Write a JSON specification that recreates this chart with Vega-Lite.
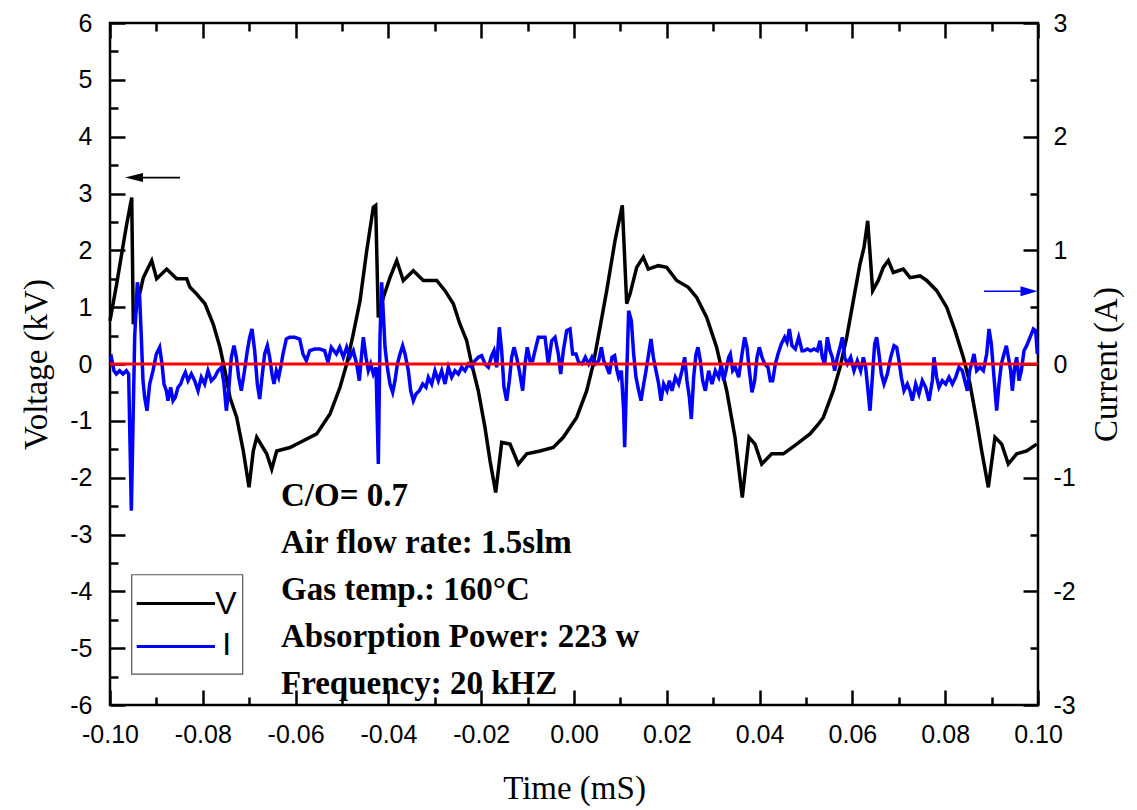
{
  "$schema": "https://vega.github.io/schema/vega-lite/v6.json",
  "width": 928,
  "height": 682,
  "autosize": "none",
  "padding": {"left": 110, "top": 23, "right": 99, "bottom": 105},
  "background": "white",
  "config": {
    "locale": {"number": {"decimal": ".", "thousands": ",", "grouping": [3], "currency": ["$", ""], "minus": "-"}},
    "view": {"stroke": "black", "strokeWidth": 2.5},
    "axis": {
      "grid": false,
      "domain": false,
      "domainColor": "black",
      "tickColor": "black",
      "labelColor": "black",
      "titleColor": "black",
      "tickWidth": 2.5,
      "labelFont": "Liberation Sans",
      "labelFontSize": 25,
      "titleFont": "Liberation Serif",
      "titleFontSize": 33,
      "titleFontWeight": "normal",
      "labelFlush": false,
      "labelOverlap": false
    }
  },
  "datasets": {
    "volt": [
      {"t": -0.1, "v": 0.76}, {"t": -0.09856, "v": 1.41}, {"t": -0.09713, "v": 2.11}, {"t": -0.0964, "v": 2.46},
      {"t": -0.09532, "v": 2.93}, {"t": -0.09498, "v": 0.7}, {"t": -0.09425, "v": 1.0}, {"t": -0.09282, "v": 1.52},
      {"t": -0.09101, "v": 1.82}, {"t": -0.08994, "v": 1.5}, {"t": -0.08778, "v": 1.67}, {"t": -0.08563, "v": 1.5},
      {"t": -0.08347, "v": 1.5}, {"t": -0.08276, "v": 1.35}, {"t": -0.08131, "v": 1.23}, {"t": -0.07953, "v": 1.06},
      {"t": -0.07774, "v": 0.7}, {"t": -0.07629, "v": 0.29}, {"t": -0.07522, "v": -0.12}, {"t": -0.07414, "v": -0.59},
      {"t": -0.07269, "v": -0.94}, {"t": -0.07127, "v": -1.53}, {"t": -0.07004, "v": -2.17}, {"t": -0.06912, "v": -1.53},
      {"t": -0.06838, "v": -1.29}, {"t": -0.06623, "v": -1.58}, {"t": -0.06515, "v": -1.85}, {"t": -0.06407, "v": -1.53},
      {"t": -0.06121, "v": -1.47}, {"t": -0.05834, "v": -1.35}, {"t": -0.05545, "v": -1.23}, {"t": -0.05259, "v": -0.88},
      {"t": -0.05043, "v": -0.41}, {"t": -0.04899, "v": 0.0}, {"t": -0.04757, "v": 0.53}, {"t": -0.04612, "v": 1.11},
      {"t": -0.04468, "v": 1.99}, {"t": -0.04325, "v": 2.76}, {"t": -0.04274, "v": 2.79}, {"t": -0.04218, "v": 0.82},
      {"t": -0.0411, "v": 1.17}, {"t": -0.03966, "v": 1.52}, {"t": -0.03821, "v": 1.82}, {"t": -0.03679, "v": 1.47},
      {"t": -0.03463, "v": 1.64}, {"t": -0.03248, "v": 1.47}, {"t": -0.02959, "v": 1.47}, {"t": -0.0278, "v": 1.29},
      {"t": -0.02601, "v": 1.06}, {"t": -0.02457, "v": 0.7}, {"t": -0.02313, "v": 0.41}, {"t": -0.02205, "v": 0.0},
      {"t": -0.02063, "v": -0.47}, {"t": -0.01918, "v": -1.12}, {"t": -0.0181, "v": -1.7}, {"t": -0.01688, "v": -2.26},
      {"t": -0.01558, "v": -1.38}, {"t": -0.01379, "v": -1.41}, {"t": -0.012, "v": -1.76}, {"t": -0.01019, "v": -1.58},
      {"t": -0.00733, "v": -1.53}, {"t": -0.00446, "v": -1.47}, {"t": -0.00231, "v": -1.29}, {"t": 0.00058, "v": -0.94},
      {"t": 0.00274, "v": -0.47}, {"t": 0.00416, "v": 0.0}, {"t": 0.0056, "v": 0.64}, {"t": 0.00705, "v": 1.29},
      {"t": 0.00884, "v": 2.17}, {"t": 0.01041, "v": 2.79}, {"t": 0.01136, "v": 1.06}, {"t": 0.01207, "v": 1.23},
      {"t": 0.01351, "v": 1.7}, {"t": 0.01494, "v": 1.88}, {"t": 0.01601, "v": 1.67}, {"t": 0.01817, "v": 1.73},
      {"t": 0.01998, "v": 1.7}, {"t": 0.02213, "v": 1.47}, {"t": 0.02463, "v": 1.35}, {"t": 0.02644, "v": 1.17},
      {"t": 0.0286, "v": 0.82}, {"t": 0.03075, "v": 0.29}, {"t": 0.03291, "v": -0.47}, {"t": 0.0347, "v": -1.29},
      {"t": 0.03627, "v": -2.35}, {"t": 0.03772, "v": -1.29}, {"t": 0.03901, "v": -1.41}, {"t": 0.04045, "v": -1.76},
      {"t": 0.04261, "v": -1.58}, {"t": 0.04511, "v": -1.58}, {"t": 0.04799, "v": -1.41}, {"t": 0.05086, "v": -1.23},
      {"t": 0.05265, "v": -1.06}, {"t": 0.05373, "v": -0.94}, {"t": 0.05588, "v": -0.47}, {"t": 0.05733, "v": -0.06},
      {"t": 0.05877, "v": 0.47}, {"t": 0.06019, "v": 1.11}, {"t": 0.06164, "v": 1.76}, {"t": 0.0625, "v": 2.05},
      {"t": 0.0633, "v": 2.52}, {"t": 0.06437, "v": 1.29}, {"t": 0.06558, "v": 1.47}, {"t": 0.06666, "v": 1.7},
      {"t": 0.06774, "v": 1.82}, {"t": 0.06881, "v": 1.61}, {"t": 0.07097, "v": 1.67}, {"t": 0.07241, "v": 1.52},
      {"t": 0.07457, "v": 1.55}, {"t": 0.07601, "v": 1.47}, {"t": 0.07817, "v": 1.29}, {"t": 0.08032, "v": 1.0},
      {"t": 0.08211, "v": 0.59}, {"t": 0.0839, "v": 0.12}, {"t": 0.08534, "v": -0.35}, {"t": 0.08679, "v": -1.0},
      {"t": 0.08787, "v": -1.53}, {"t": 0.08929, "v": -2.17}, {"t": 0.09073, "v": -1.29}, {"t": 0.09218, "v": -1.41},
      {"t": 0.0936, "v": -1.76}, {"t": 0.09541, "v": -1.58}, {"t": 0.09756, "v": -1.53}, {"t": 0.09972, "v": -1.41}
    ],
    "curr": [
      {"t": -0.1, "i": 0.044}, {"t": -0.09971, "i": 0.059}, {"t": -0.09914, "i": -0.059}, {"t": -0.09864, "i": -0.088},
      {"t": -0.09792, "i": -0.059}, {"t": -0.0972, "i": -0.088}, {"t": -0.09648, "i": -0.059}, {"t": -0.09598, "i": -0.088},
      {"t": -0.0954, "i": -1.29}, {"t": -0.09468, "i": 0.235}, {"t": -0.09411, "i": 0.718}, {"t": -0.09361, "i": 0.587},
      {"t": -0.09325, "i": 0.235}, {"t": -0.09289, "i": -0.147}, {"t": -0.09253, "i": -0.293}, {"t": -0.09203, "i": -0.411},
      {"t": -0.09145, "i": -0.176}, {"t": -0.09073, "i": -0.059}, {"t": -0.09001, "i": 0.088}, {"t": -0.0893, "i": 0.147},
      {"t": -0.08879, "i": 0.0}, {"t": -0.08836, "i": -0.176}, {"t": -0.08786, "i": -0.235}, {"t": -0.0875, "i": -0.323},
      {"t": -0.08693, "i": -0.205}, {"t": -0.08642, "i": -0.323}, {"t": -0.08592, "i": -0.293}, {"t": -0.08534, "i": -0.205},
      {"t": -0.08477, "i": -0.176}, {"t": -0.08427, "i": -0.117}, {"t": -0.08376, "i": -0.073}, {"t": -0.08319, "i": -0.147},
      {"t": -0.08247, "i": -0.088}, {"t": -0.08175, "i": -0.147}, {"t": -0.08103, "i": -0.235}, {"t": -0.08032, "i": -0.117},
      {"t": -0.0796, "i": -0.176}, {"t": -0.07888, "i": -0.059}, {"t": -0.07816, "i": -0.147}, {"t": -0.07744, "i": -0.117},
      {"t": -0.07672, "i": -0.059}, {"t": -0.076, "i": -0.029}, {"t": -0.07543, "i": -0.176}, {"t": -0.07493, "i": -0.411},
      {"t": -0.07443, "i": -0.235}, {"t": -0.07385, "i": 0.059}, {"t": -0.07328, "i": 0.161}, {"t": -0.07277, "i": 0.059},
      {"t": -0.07227, "i": -0.117}, {"t": -0.0717, "i": -0.235}, {"t": -0.07112, "i": -0.088}, {"t": -0.0704, "i": 0.117},
      {"t": -0.0699, "i": 0.235}, {"t": -0.0694, "i": 0.308}, {"t": -0.06882, "i": 0.117}, {"t": -0.06825, "i": -0.176},
      {"t": -0.06774, "i": -0.308}, {"t": -0.06724, "i": -0.117}, {"t": -0.06667, "i": 0.088}, {"t": -0.06609, "i": 0.161},
      {"t": -0.06559, "i": 0.059}, {"t": -0.06509, "i": -0.088}, {"t": -0.06466, "i": -0.176}, {"t": -0.06415, "i": -0.059},
      {"t": -0.06365, "i": -0.117}, {"t": -0.06307, "i": 0.0}, {"t": -0.06272, "i": 0.088}, {"t": -0.062, "i": 0.22},
      {"t": -0.06128, "i": 0.235}, {"t": -0.0602, "i": 0.235}, {"t": -0.05912, "i": 0.22}, {"t": -0.05841, "i": 0.088},
      {"t": -0.05769, "i": 0.029}, {"t": -0.05697, "i": 0.117}, {"t": -0.05589, "i": 0.132}, {"t": -0.05481, "i": 0.132},
      {"t": -0.05374, "i": 0.117}, {"t": -0.05302, "i": 0.015}, {"t": -0.0523, "i": 0.147}, {"t": -0.05122, "i": 0.088},
      {"t": -0.0505, "i": 0.147}, {"t": -0.04971, "i": 0.059}, {"t": -0.04899, "i": 0.147}, {"t": -0.04828, "i": 0.059},
      {"t": -0.04756, "i": 0.117}, {"t": -0.04684, "i": 0.0}, {"t": -0.04626, "i": -0.147}, {"t": -0.04576, "i": 0.088},
      {"t": -0.0454, "i": 0.235}, {"t": -0.04483, "i": 0.059}, {"t": -0.04433, "i": -0.059}, {"t": -0.04382, "i": 0.0},
      {"t": -0.04325, "i": -0.088}, {"t": -0.04267, "i": -0.029}, {"t": -0.04217, "i": -0.88}, {"t": -0.04181, "i": 0.235},
      {"t": -0.04145, "i": 0.718}, {"t": -0.04109, "i": 0.44}, {"t": -0.04073, "i": 0.147}, {"t": -0.04023, "i": -0.029},
      {"t": -0.03966, "i": -0.176}, {"t": -0.03908, "i": -0.249}, {"t": -0.03858, "i": -0.147}, {"t": -0.03807, "i": 0.0},
      {"t": -0.0375, "i": 0.088}, {"t": -0.03693, "i": 0.161}, {"t": -0.03642, "i": 0.088}, {"t": -0.0357, "i": -0.059},
      {"t": -0.0352, "i": -0.235}, {"t": -0.03463, "i": -0.323}, {"t": -0.03405, "i": -0.264}, {"t": -0.03333, "i": -0.235},
      {"t": -0.03261, "i": -0.176}, {"t": -0.0319, "i": -0.205}, {"t": -0.03139, "i": -0.117}, {"t": -0.03067, "i": -0.176},
      {"t": -0.02996, "i": -0.059}, {"t": -0.02924, "i": -0.147}, {"t": -0.02852, "i": -0.059}, {"t": -0.0278, "i": -0.176},
      {"t": -0.02708, "i": -0.029}, {"t": -0.02636, "i": -0.117}, {"t": -0.02565, "i": -0.059}, {"t": -0.02493, "i": -0.088},
      {"t": -0.02421, "i": -0.029}, {"t": -0.02349, "i": -0.059}, {"t": -0.02277, "i": 0.0}, {"t": -0.02206, "i": -0.029},
      {"t": -0.02134, "i": 0.029}, {"t": -0.02062, "i": 0.059}, {"t": -0.0199, "i": 0.073}, {"t": -0.01918, "i": 0.0},
      {"t": -0.01846, "i": -0.029}, {"t": -0.01774, "i": 0.073}, {"t": -0.01724, "i": 0.117}, {"t": -0.01667, "i": -0.029},
      {"t": -0.01609, "i": 0.323}, {"t": -0.01559, "i": 0.117}, {"t": -0.01509, "i": -0.205}, {"t": -0.01451, "i": -0.323},
      {"t": -0.01394, "i": -0.147}, {"t": -0.01343, "i": 0.059}, {"t": -0.01293, "i": 0.147}, {"t": -0.01236, "i": 0.059},
      {"t": -0.01178, "i": -0.059}, {"t": -0.01106, "i": -0.235}, {"t": -0.01056, "i": 0.0}, {"t": -0.01006, "i": 0.147},
      {"t": -0.00948, "i": 0.029}, {"t": -0.00891, "i": 0.029}, {"t": -0.0084, "i": 0.117}, {"t": -0.00769, "i": 0.235},
      {"t": -0.00697, "i": 0.235}, {"t": -0.00625, "i": 0.235}, {"t": -0.00553, "i": 0.0}, {"t": -0.00481, "i": 0.205},
      {"t": -0.00409, "i": 0.235}, {"t": -0.00338, "i": 0.088}, {"t": -0.00287, "i": -0.088}, {"t": -0.0023, "i": 0.117},
      {"t": -0.00158, "i": 0.293}, {"t": -0.00086, "i": 0.308}, {"t": -0.00029, "i": 0.088}, {"t": 0.00043, "i": 0.088},
      {"t": 0.001, "i": 0.015}, {"t": 0.00172, "i": 0.0}, {"t": 0.00244, "i": 0.059}, {"t": 0.00316, "i": 0.0},
      {"t": 0.00388, "i": 0.059}, {"t": 0.0046, "i": 0.0}, {"t": 0.00532, "i": 0.029}, {"t": 0.00589, "i": 0.147},
      {"t": 0.0064, "i": 0.029}, {"t": 0.00711, "i": -0.029}, {"t": 0.00762, "i": -0.088}, {"t": 0.00819, "i": 0.059},
      {"t": 0.00876, "i": 0.073}, {"t": 0.00927, "i": -0.059}, {"t": 0.00963, "i": -0.117}, {"t": 0.0102, "i": -0.059},
      {"t": 0.0107, "i": -0.411}, {"t": 0.01092, "i": -0.733}, {"t": 0.01128, "i": -0.205}, {"t": 0.01178, "i": 0.469},
      {"t": 0.01236, "i": 0.381}, {"t": 0.01286, "i": 0.088}, {"t": 0.01336, "i": -0.117}, {"t": 0.01394, "i": -0.235},
      {"t": 0.01444, "i": -0.323}, {"t": 0.01502, "i": -0.176}, {"t": 0.01552, "i": -0.059}, {"t": 0.01609, "i": 0.088},
      {"t": 0.01659, "i": 0.22}, {"t": 0.0171, "i": 0.059}, {"t": 0.01767, "i": -0.059}, {"t": 0.01825, "i": -0.176},
      {"t": 0.01875, "i": -0.323}, {"t": 0.01932, "i": -0.176}, {"t": 0.02004, "i": -0.235}, {"t": 0.02055, "i": -0.147},
      {"t": 0.02112, "i": -0.235}, {"t": 0.02184, "i": -0.117}, {"t": 0.02256, "i": -0.176}, {"t": 0.02328, "i": -0.059},
      {"t": 0.02385, "i": 0.059}, {"t": 0.02435, "i": -0.147}, {"t": 0.02486, "i": -0.293}, {"t": 0.02529, "i": -0.484},
      {"t": 0.02579, "i": -0.117}, {"t": 0.02629, "i": 0.088}, {"t": 0.02672, "i": 0.147}, {"t": 0.02723, "i": 0.029},
      {"t": 0.02773, "i": -0.147}, {"t": 0.0283, "i": -0.235}, {"t": 0.02902, "i": -0.059}, {"t": 0.02974, "i": -0.176},
      {"t": 0.03046, "i": -0.059}, {"t": 0.03118, "i": -0.117}, {"t": 0.03175, "i": 0.0}, {"t": 0.03226, "i": -0.147},
      {"t": 0.03276, "i": -0.059}, {"t": 0.03333, "i": 0.059}, {"t": 0.03369, "i": 0.088}, {"t": 0.0342, "i": -0.059},
      {"t": 0.03477, "i": -0.029}, {"t": 0.03549, "i": -0.117}, {"t": 0.03621, "i": 0.088}, {"t": 0.03678, "i": 0.235},
      {"t": 0.03728, "i": 0.147}, {"t": 0.03779, "i": -0.059}, {"t": 0.03836, "i": -0.249}, {"t": 0.03894, "i": -0.147},
      {"t": 0.03944, "i": 0.059}, {"t": 0.03994, "i": 0.147}, {"t": 0.04052, "i": 0.059}, {"t": 0.04109, "i": 0.0},
      {"t": 0.04181, "i": -0.029}, {"t": 0.04231, "i": -0.147}, {"t": 0.04282, "i": -0.147}, {"t": 0.04339, "i": 0.0},
      {"t": 0.04397, "i": 0.088}, {"t": 0.04468, "i": 0.176}, {"t": 0.0454, "i": 0.235}, {"t": 0.04591, "i": 0.191},
      {"t": 0.04641, "i": 0.308}, {"t": 0.04698, "i": 0.161}, {"t": 0.0477, "i": 0.132}, {"t": 0.04842, "i": 0.235},
      {"t": 0.04914, "i": 0.117}, {"t": 0.04957, "i": 0.117}, {"t": 0.05029, "i": 0.132}, {"t": 0.05101, "i": 0.117},
      {"t": 0.05172, "i": 0.132}, {"t": 0.05244, "i": 0.117}, {"t": 0.05302, "i": 0.205}, {"t": 0.05352, "i": 0.059},
      {"t": 0.05402, "i": 0.0}, {"t": 0.0546, "i": 0.235}, {"t": 0.05517, "i": 0.117}, {"t": 0.05567, "i": 0.059},
      {"t": 0.05618, "i": -0.059}, {"t": 0.05675, "i": 0.059}, {"t": 0.05733, "i": 0.147}, {"t": 0.05783, "i": 0.235},
      {"t": 0.05833, "i": 0.059}, {"t": 0.05891, "i": 0.0}, {"t": 0.05963, "i": 0.059}, {"t": 0.06034, "i": -0.059},
      {"t": 0.06106, "i": 0.029}, {"t": 0.06178, "i": -0.059}, {"t": 0.06236, "i": 0.059}, {"t": 0.06286, "i": -0.029},
      {"t": 0.06336, "i": -0.235}, {"t": 0.06379, "i": -0.411}, {"t": 0.0643, "i": -0.117}, {"t": 0.0648, "i": 0.176},
      {"t": 0.06523, "i": 0.235}, {"t": 0.06573, "i": 0.088}, {"t": 0.06624, "i": -0.088}, {"t": 0.06681, "i": -0.176},
      {"t": 0.06753, "i": -0.088}, {"t": 0.06825, "i": 0.059}, {"t": 0.06897, "i": 0.161}, {"t": 0.06954, "i": 0.147},
      {"t": 0.07004, "i": 0.029}, {"t": 0.07055, "i": -0.117}, {"t": 0.07112, "i": -0.235}, {"t": 0.07184, "i": -0.176},
      {"t": 0.07241, "i": -0.235}, {"t": 0.07292, "i": -0.323}, {"t": 0.07364, "i": -0.176}, {"t": 0.07435, "i": -0.264},
      {"t": 0.07507, "i": -0.147}, {"t": 0.07579, "i": -0.205}, {"t": 0.07651, "i": -0.323}, {"t": 0.07723, "i": -0.147},
      {"t": 0.07759, "i": 0.059}, {"t": 0.07816, "i": -0.117}, {"t": 0.07866, "i": -0.205}, {"t": 0.07938, "i": -0.147},
      {"t": 0.0801, "i": -0.176}, {"t": 0.08082, "i": -0.117}, {"t": 0.08154, "i": -0.176}, {"t": 0.08226, "i": -0.117},
      {"t": 0.08297, "i": -0.029}, {"t": 0.08369, "i": -0.059}, {"t": 0.08441, "i": -0.176}, {"t": 0.08477, "i": -0.235},
      {"t": 0.08527, "i": -0.059}, {"t": 0.08585, "i": 0.029}, {"t": 0.08621, "i": 0.088}, {"t": 0.08678, "i": -0.059},
      {"t": 0.0875, "i": -0.029}, {"t": 0.08822, "i": -0.059}, {"t": 0.08894, "i": 0.088}, {"t": 0.08944, "i": 0.308},
      {"t": 0.08994, "i": 0.176}, {"t": 0.09052, "i": -0.117}, {"t": 0.09109, "i": -0.411}, {"t": 0.09159, "i": -0.176},
      {"t": 0.0921, "i": 0.0}, {"t": 0.09267, "i": 0.088}, {"t": 0.09318, "i": 0.161}, {"t": 0.09375, "i": 0.029},
      {"t": 0.09411, "i": -0.059}, {"t": 0.09447, "i": -0.235}, {"t": 0.09497, "i": -0.029}, {"t": 0.0954, "i": 0.059},
      {"t": 0.09591, "i": -0.147}, {"t": 0.09641, "i": -0.059}, {"t": 0.09698, "i": 0.117}, {"t": 0.09756, "i": 0.161},
      {"t": 0.09828, "i": 0.235}, {"t": 0.099, "i": 0.308}, {"t": 0.0995, "i": 0.293}, {"t": 0.09986, "i": 0.088}
    ],
    "notes": [
      {"t": -0.06315, "v": -2.317, "label": "C/O= 0.7"},
      {"t": -0.06315, "v": -3.144, "label": "Air flow rate: 1.5slm"},
      {"t": -0.06315, "v": -3.971, "label": "Gas temp.: 160°C"},
      {"t": -0.06315, "v": -4.798, "label": "Absorption Power: 223 w"},
      {"t": -0.06315, "v": -5.625, "label": "Frequency: 20 kHZ"}
    ],
    "legbox": [{"t1": -0.09532, "t2": -0.0714, "v1": -3.708, "v2": -5.455}],
    "leglines": [
      {"t1": -0.09425, "t2": -0.07737, "v": -4.213, "s": "V"},
      {"t1": -0.09425, "t2": -0.07737, "v": -4.969, "s": "I"}
    ],
    "legtext": [
      {"t": -0.075, "v": -4.22, "s": "V"},
      {"t": -0.07485, "v": -4.94, "s": "I"}
    ],
    "arrowlines": [
      {"t1": -0.09289, "t2": -0.08491, "v": 3.28, "s": "V"},
      {"t1": 0.08836, "t2": 0.09634, "v": 1.28, "s": "I"}
    ],
    "headleft": [{"t": -0.09483, "v": 3.28}],
    "headright": [{"t": 0.09806, "v": 1.28}],
    "zero": [{"v": 0}]
  },
  "resolve": {"scale": {"y": "independent"}, "axis": {"x": "independent", "y": "independent"}},
  "layer": [
    {
      "data": {"name": "legbox"},
      "mark": {"type": "rect", "fill": "white", "stroke": "#555555", "strokeWidth": 1.2},
      "encoding": {
        "x": {"field": "t1", "type": "quantitative", "scale": {"domain": [-0.1, 0.1], "nice": false, "zero": false},
          "axis": {"orient": "bottom", "values": [-0.09, -0.07, -0.05, -0.03, -0.01, 0.01, 0.03, 0.05, 0.07, 0.09], "tickSize": -8, "tickColor": "black", "labelExpr": "''", "domain": false, "title": null}},
        "x2": {"field": "t2"},
        "y": {"field": "v1", "type": "quantitative", "scale": {"domain": [-6, 6], "nice": false, "zero": false},
          "axis": {"orient": "left", "values": [-5.5, -4.5, -3.5, -2.5, -1.5, -0.5, 0.5, 1.5, 2.5, 3.5, 4.5, 5.5], "tickSize": -8, "tickColor": "black", "labels": false, "domain": false, "title": null}},
        "y2": {"field": "v2"}
      }
    },
    {
      "data": {"name": "leglines"},
      "mark": {"type": "rule", "strokeWidth": 3},
      "encoding": {
        "x": {"field": "t1", "type": "quantitative", "scale": {"domain": [-0.1, 0.1], "nice": false, "zero": false},
          "axis": {"orient": "top", "values": [-0.1, -0.08, -0.06, -0.04, -0.02, 0, 0.02, 0.04, 0.06, 0.08, 0.1], "tickSize": -15, "tickColor": "black", "labelExpr": "''", "domain": false, "title": null}},
        "x2": {"field": "t2"},
        "y": {"field": "v", "type": "quantitative", "scale": {"domain": [-6, 6], "nice": false, "zero": false},
          "axis": {"orient": "right", "values": [-5, -3, -1, 1, 3, 5], "tickSize": -8, "tickColor": "black", "labels": false, "domain": false, "title": null}},
        "color": {"field": "s", "type": "nominal", "scale": {"domain": ["V", "I"], "range": ["black", "#0000ff"]}, "legend": null}
      }
    },
    {
      "data": {"name": "legtext"},
      "mark": {"type": "text", "font": "Liberation Sans", "fontSize": 32, "align": "center", "baseline": "middle", "color": "black"},
      "encoding": {
        "x": {"field": "t", "type": "quantitative", "scale": {"domain": [-0.1, 0.1], "nice": false, "zero": false},
          "axis": {"orient": "top", "values": [-0.09, -0.07, -0.05, -0.03, -0.01, 0.01, 0.03, 0.05, 0.07, 0.09], "tickSize": -8, "tickColor": "black", "labelExpr": "''", "domain": false, "title": null}},
        "y": {"field": "v", "type": "quantitative", "scale": {"domain": [-6, 6], "nice": false, "zero": false}, "axis": null},
        "text": {"field": "s"}
      }
    },
    {
      "data": {"name": "notes"},
      "mark": {"type": "text", "font": "Liberation Serif", "fontWeight": "bold", "fontSize": 33, "align": "left", "baseline": "middle", "color": "black"},
      "encoding": {
        "x": {"field": "t", "type": "quantitative", "scale": {"domain": [-0.1, 0.1], "nice": false, "zero": false}, "axis": null},
        "y": {"field": "v", "type": "quantitative", "scale": {"domain": [-6, 6], "nice": false, "zero": false}, "axis": null},
        "text": {"field": "label"}
      }
    },
    {
      "data": {"name": "arrowlines"},
      "mark": {"type": "rule", "strokeWidth": 1.6},
      "encoding": {
        "x": {"field": "t1", "type": "quantitative", "scale": {"domain": [-0.1, 0.1], "nice": false, "zero": false}, "axis": null},
        "x2": {"field": "t2"},
        "y": {"field": "v", "type": "quantitative", "scale": {"domain": [-6, 6], "nice": false, "zero": false}, "axis": null},
        "color": {"field": "s", "type": "nominal", "scale": {"domain": ["V", "I"], "range": ["black", "#0000ff"]}, "legend": null}
      }
    },
    {
      "data": {"name": "headleft"},
      "mark": {"type": "point", "shape": "M-1,0L1,-0.5L1,0.5Z", "filled": true, "color": "black", "opacity": 1, "size": 324},
      "encoding": {
        "x": {"field": "t", "type": "quantitative", "scale": {"domain": [-0.1, 0.1], "nice": false, "zero": false}, "axis": null},
        "y": {"field": "v", "type": "quantitative", "scale": {"domain": [-6, 6], "nice": false, "zero": false}, "axis": null}
      }
    },
    {
      "data": {"name": "headright"},
      "mark": {"type": "point", "shape": "M1,0L-1,-0.6L-1,0.6Z", "filled": true, "color": "#0000ff", "opacity": 1, "size": 289},
      "encoding": {
        "x": {"field": "t", "type": "quantitative", "scale": {"domain": [-0.1, 0.1], "nice": false, "zero": false}, "axis": null},
        "y": {"field": "v", "type": "quantitative", "scale": {"domain": [-6, 6], "nice": false, "zero": false}, "axis": null}
      }
    },
    {
      "data": {"name": "volt"},
      "mark": {"type": "line", "color": "black", "strokeWidth": 3.5},
      "encoding": {
        "x": {"field": "t", "type": "quantitative", "scale": {"domain": [-0.1, 0.1], "nice": false, "zero": false},
          "axis": {"orient": "bottom", "values": [-0.1, -0.08, -0.06, -0.04, -0.02, 0, 0.02, 0.04, 0.06, 0.08, 0.1], "format": ".2f", "tickSize": -15, "tickColor": "black", "labelPadding": 32, "title": "Time (mS)", "titlePadding": 25}},
        "y": {"field": "v", "type": "quantitative", "scale": {"domain": [-6, 6], "nice": false, "zero": false},
          "axis": {"orient": "left", "values": [-6, -5, -4, -3, -2, -1, 0, 1, 2, 3, 4, 5, 6], "tickSize": -15, "tickColor": "black", "labelPadding": 33, "title": "Voltage (kV)", "titlePadding": 16}}
      }
    },
    {
      "data": {"name": "curr"},
      "mark": {"type": "line", "color": "#0000ff", "strokeWidth": 3.5},
      "encoding": {
        "x": {"field": "t", "type": "quantitative", "scale": {"domain": [-0.1, 0.1], "nice": false, "zero": false}, "axis": null},
        "y": {"field": "i", "type": "quantitative", "scale": {"domain": [-3, 3], "nice": false, "zero": false},
          "axis": {"orient": "right", "values": [-3, -2, -1, 0, 1, 2, 3], "tickSize": -15, "tickColor": "black", "labelPadding": 30, "title": "Current (A)", "titlePadding": 48, "titleAngle": -90}}
      }
    },
    {
      "data": {"name": "zero"},
      "mark": {"type": "rule", "color": "#ff0000", "strokeWidth": 3},
      "encoding": {
        "y": {"field": "v", "type": "quantitative", "scale": {"domain": [-6, 6], "nice": false, "zero": false}, "axis": null}
      }
    }
  ]
}
